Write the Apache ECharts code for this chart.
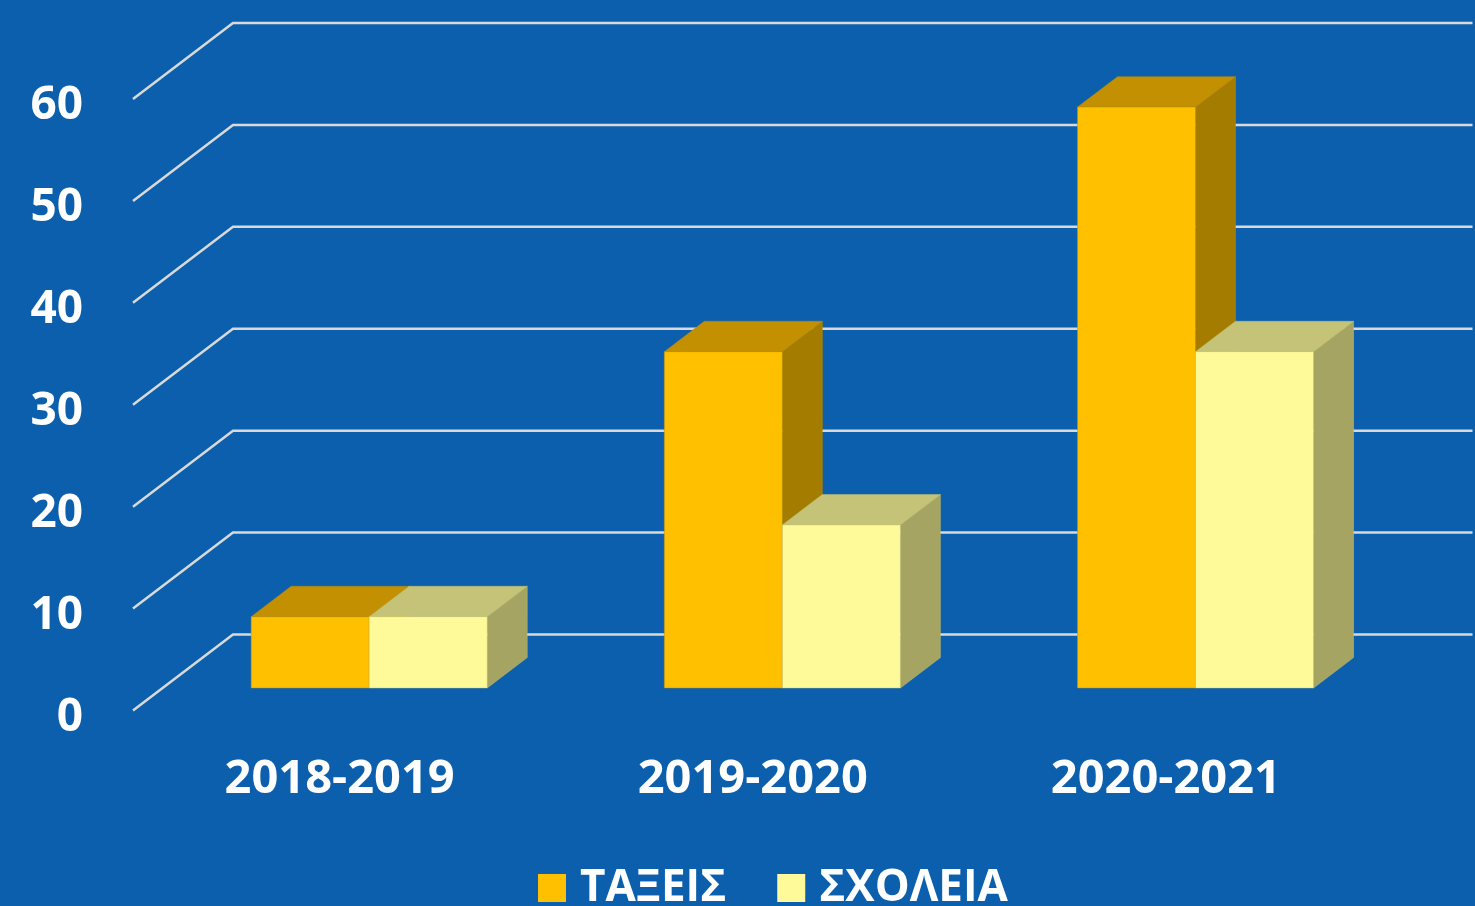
<!DOCTYPE html>
<html>
<head>
<meta charset="utf-8">
<script src="https://cdn.jsdelivr.net/npm/echarts@6/dist/echarts.min.js"></script>
<style>
  html, body { margin: 0; padding: 0; background: #0B5FAC; }
  #main { width: 1475px; height: 906px; }
</style>
</head>
<body>
<div id="main"></div>
<script>
// σχολικά έτη και τιμές
var years = ['2018-2019', '2019-2020', '2020-2021']
var taxeis = [7, 33, 57]
var scholeia = [7, 16, 33]
var yTicks = [0, 10, 20, 30, 40, 50, 60]

// ψευδο-3D: βάθος πίσω τοίχου σε px
var WALL_DX = 100
var WALL_DY = -76
var BAR_FRONT = 0.296 // πού ξεκινά η μπάρα μέσα στο βάθος
var BAR_DEPTH = 0.4
var BAR_W = 0.2857 // ποσοστό του band

function barRenderer(slot, front, top, side, edge) {
  return function (params, api) {
    var idx = api.value(0)
    var base = api.coord([idx, 0])
    var head = api.coord([idx, api.value(1)])
    var band = api.size([1, 0])[0]
    var w = band * BAR_W
    var x0 = base[0] - w + slot * w + WALL_DX * BAR_FRONT
    var y0 = base[1] + WALL_DY * BAR_FRONT
    var y1 = head[1] + WALL_DY * BAR_FRONT
    var dx = WALL_DX * BAR_DEPTH
    var dy = WALL_DY * BAR_DEPTH
    return {
      type: 'group',
      children: [
        {
          type: 'polygon',
          shape: { points: [[x0 + w, y1], [x0 + w + dx, y1 + dy], [x0 + w + dx, y0 + dy], [x0 + w, y0]] },
          style: { fill: side, stroke: edge, lineWidth: 0.8 }
        },
        {
          type: 'polygon',
          shape: { points: [[x0, y1], [x0 + dx, y1 + dy], [x0 + w + dx, y1 + dy], [x0 + w, y1]] },
          style: { fill: top, stroke: edge, lineWidth: 0.8 }
        },
        {
          type: 'rect',
          shape: { x: x0, y: y1, width: w, height: y0 - y1 },
          style: { fill: front, stroke: edge, lineWidth: 0.8 }
        }
      ]
    }
  }
}

var chart = echarts.init(document.getElementById('main'))
chart.setOption({
  animation: false,
  backgroundColor: '#0B5FAC',
  textStyle: { fontFamily: 'Open Sans' },
  grid: { left: 133, right: 102.5, top: 99, bottom: 195.5 },
  legend: {
    data: [{ name: 'ΤΑΞΕΙΣ', icon: 'rect' }, { name: 'ΣΧΟΛΕΙΑ', icon: 'rect' }],
    left: 538,
    top: 866,
    padding: 0,
    itemWidth: 28,
    itemHeight: 28,
    itemGap: 51,
    textStyle: {
      color: '#fff',
      fontSize: 44,
      fontWeight: 'bold',
      fontFamily: 'Open Sans',
      padding: [0, 0, 0, 9]
    }
  },
  xAxis: {
    type: 'category',
    data: years,
    axisLine: { show: false },
    axisTick: { show: false },
    axisLabel: { color: '#fff', fontSize: 47, fontWeight: 'bold', margin: 46, fontFamily: 'Open Sans' }
  },
  yAxis: {
    type: 'value',
    min: 0,
    max: 60,
    interval: 10,
    axisLine: { show: false },
    axisTick: { show: false },
    splitLine: { show: false },
    axisLabel: {
      color: '#fff',
      fontSize: 46,
      fontWeight: 'bold',
      margin: 50,
      verticalAlign: 'top',
      lineHeight: 14,
      fontFamily: 'Open Sans'
    }
  },
  series: [
    {
      // γραμμές πλέγματος: διαγώνιος + πίσω τοίχος
      name: 'grid',
      type: 'custom',
      clip: false,
      silent: true,
      z: 1,
      data: yTicks.map(function (v) { return [0, v] }),
      renderItem: function (params, api) {
        var p = api.coord([0, api.value(1)])
        var cs = params.coordSys
        return {
          type: 'polyline',
          shape: {
            points: [
              [cs.x, p[1]],
              [cs.x + WALL_DX, p[1] + WALL_DY],
              [cs.x + cs.width + WALL_DX, p[1] + WALL_DY]
            ]
          },
          style: { stroke: '#D9D9D9', lineWidth: 2.5, fill: null }
        }
      }
    },
    {
      name: 'ΤΑΞΕΙΣ',
      type: 'custom',
      clip: false,
      z: 2,
      itemStyle: { color: '#FFC000' },
      data: taxeis.map(function (v, i) { return [i, v] }),
      renderItem: barRenderer(0, '#FFC000', '#C29000', '#A47D00', 'rgba(190,140,0,0.6)')
    },
    {
      name: 'ΣΧΟΛΕΙΑ',
      type: 'custom',
      clip: false,
      z: 3,
      itemStyle: { color: '#FFFA99' },
      data: scholeia.map(function (v, i) { return [i, v] }),
      renderItem: barRenderer(1, '#FFFA99', '#C4C377', '#A5A462', 'rgba(200,196,110,0.6)')
    }
  ]
})
</script>
</body>
</html>
